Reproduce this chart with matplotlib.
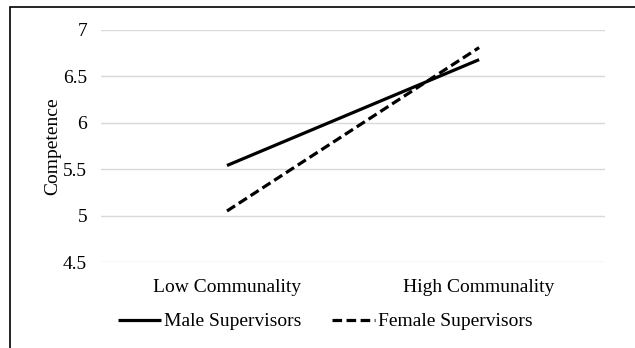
"""
Competence by communality and supervisor gender
"""

import matplotlib
matplotlib.use("Agg")
import matplotlib.pyplot as plt
from matplotlib.patches import Rectangle


categories = ["Low Communality", "High Communality"]
male_values = [5.54, 6.68]
female_values = [5.05, 6.81]
y_ticks = [4.5, 5, 5.5, 6, 6.5, 7]
y_tick_labels = ["4.5", "5", "5.5", "6", "6.5", "7"]


def main():
    plt.rcParams["font.family"] = ["Liberation Serif", "DejaVu Serif"]

    fig = plt.figure(figsize=(6.35, 3.48), dpi=100)
    ax = fig.add_axes([0.159, 0.247, 0.794, 0.667])

    x = [0.5, 1.5]
    ax.plot(x, male_values, color="black", linewidth=2.3,
            solid_capstyle="butt", label="Male Supervisors")
    ax.plot(x, female_values, color="black", linewidth=2.3,
            linestyle=(0, (3.0, 1.4)), dash_capstyle="butt",
            label="Female Supervisors")

    ax.set_xlim(0, 2)
    ax.set_ylim(4.5, 7)
    ax.set_xticks(x)
    ax.set_xticklabels(categories, fontsize=14)
    ax.set_yticks(y_ticks)
    ax.set_yticklabels(y_tick_labels, fontsize=14)
    ax.tick_params(length=0, pad=10)
    ax.tick_params(axis="x", pad=12)

    ax.grid(axis="y", color="#d9d9d9", linewidth=1)
    ax.set_axisbelow(True)
    for side in ax.spines.values():
        side.set_visible(False)

    ax.set_ylabel("Competence", fontsize=14, labelpad=1)

    fig.legend(loc="lower center", bbox_to_anchor=(0.512, 0.0), ncol=2,
               frameon=False, fontsize=14, handlelength=2.2,
               handletextpad=0.15, columnspacing=1.6)

    fig.patches.append(Rectangle((9.5 / 635, -0.1), 1.2, 1.1 - 6.5 / 348,
                                 transform=fig.transFigure, fill=False,
                                 edgecolor="black", linewidth=1.2))

    fig.savefig("out.png", dpi=100)


if __name__ == "__main__":
    main()
